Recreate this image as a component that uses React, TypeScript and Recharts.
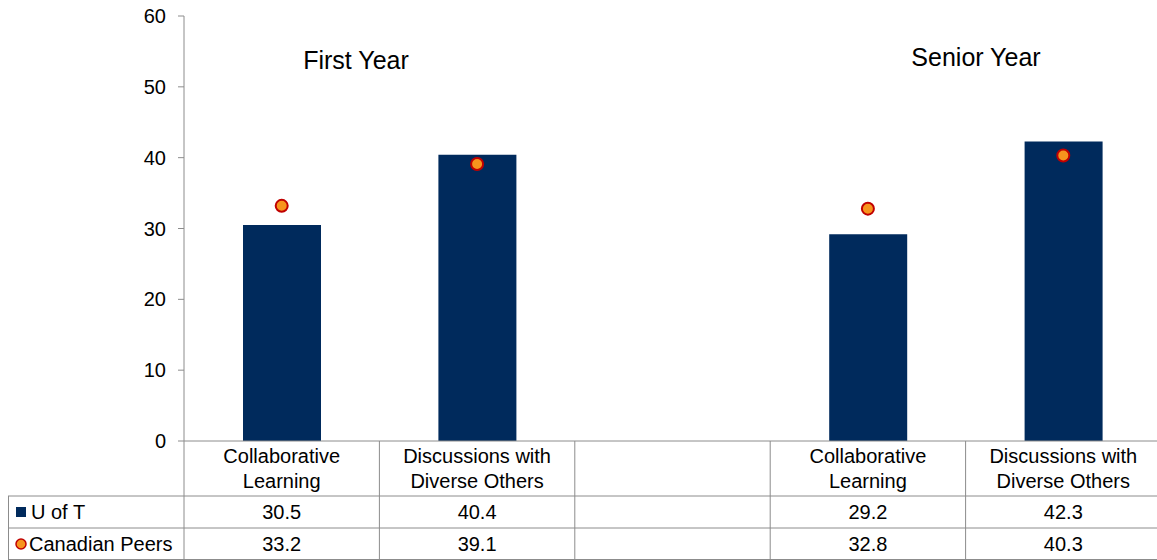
import React from 'react';
import { ComposedChart, Bar, Line, XAxis, YAxis, Customized } from 'recharts';

const categoryLines = [
    ['Collaborative', 'Learning'],
    ['Discussions with', 'Diverse Others'],
    [],
    ['Collaborative', 'Learning'],
    ['Discussions with', 'Diverse Others'],
];
const uoftValues = [30.5, 40.4, null, 29.2, 42.3];
const peerValues = [33.2, 39.1, null, 32.8, 40.3];
const yTicks = [0, 10, 20, 30, 40, 50, 60];
const seriesNames = ['U of T', 'Canadian Peers'];
const groupTitles = ['First Year', 'Senior Year'];

const FONT = '"Liberation Sans", Arial, sans-serif';
const W = 1157;
const H = 560;
// plot runs a few px past the right edge, like the original export
const CHART_W = 1162;
const PLOT_LEFT = 184;
const PLOT_RIGHT = 1161;
const PLOT_TOP = 16;
const PLOT_BOTTOM = 441;
const ROW1 = 496;
const ROW2 = 528;
const BAND = (PLOT_RIGHT - PLOT_LEFT) / categoryLines.length;
const GRID = '#8c8c8c';
const NAVY = '#002A5C';

const data = categoryLines.map((lines, i) => ({
    key: `cat${i}`,
    uoft: uoftValues[i],
    peers: peerValues[i],
}));

const TableTick = (props: any) => {
    const { x, payload } = props;
    const i = payload.index;
    const lines = categoryLines[i] || [];
    const half = BAND / 2;
    return (
        <g>
            <line x1={x - half} x2={x - half} y1={PLOT_BOTTOM} y2={H} stroke={GRID} />
            {lines.map((t, k) => (
                <text key={k} x={x} y={463 + k * 25} textAnchor="middle" fontSize={20} fontFamily={FONT} fill="#000">{t}</text>
            ))}
            {uoftValues[i] != null && (
                <text x={x} y={519} textAnchor="middle" fontSize={20} fontFamily={FONT} fill="#000">{uoftValues[i]!.toFixed(1)}</text>
            )}
            {peerValues[i] != null && (
                <text x={x} y={551} textAnchor="middle" fontSize={20} fontFamily={FONT} fill="#000">{peerValues[i]!.toFixed(1)}</text>
            )}
        </g>
    );
};

const TableFrame = () => (
    <g>
        <line x1={8} x2={W} y1={ROW1} y2={ROW1} stroke={GRID} />
        <line x1={8} x2={W} y1={ROW2} y2={ROW2} stroke={GRID} />
        <line x1={8} x2={W} y1={H - 0.5} y2={H - 0.5} stroke={GRID} />
        <line x1={8.5} x2={8.5} y1={ROW1} y2={H} stroke={GRID} />
        <rect x={16} y={507} width={10} height={10} fill={NAVY} />
        <text x={31} y={519} fontSize={20} fontFamily={FONT} fill="#000">{seriesNames[0]}</text>
        <circle cx={21} cy={544} r={5} fill="#F7941D" stroke="#C00000" strokeWidth={1.5} />
        <text x={29} y={551} fontSize={20} fontFamily={FONT} fill="#000">{seriesNames[1]}</text>
        <text x={356} y={69} textAnchor="middle" fontSize={25} fontFamily={FONT} fill="#000">{groupTitles[0]}</text>
        <text x={976} y={66} textAnchor="middle" fontSize={25} fontFamily={FONT} fill="#000">{groupTitles[1]}</text>
    </g>
);

export default function App() {
    return (
        <div style={{ position: 'absolute', left: 0, top: 0, width: W, height: H, overflow: 'hidden' }}>
            <ComposedChart
                width={CHART_W}
                height={H}
                data={data}
                margin={{ top: PLOT_TOP, right: CHART_W - PLOT_RIGHT, bottom: 0, left: 0 }}
            >
                <XAxis
                    dataKey="key"
                    height={H - PLOT_BOTTOM}
                    interval={0}
                    tickLine={false}
                    axisLine={{ stroke: GRID }}
                    tick={<TableTick />}
                />
                <YAxis
                    width={PLOT_LEFT}
                    domain={[0, 60]}
                    ticks={yTicks}
                    tickSize={6}
                    tickMargin={12}
                    tickLine={{ stroke: GRID }}
                    axisLine={{ stroke: GRID }}
                    tick={{ fontSize: 20, fontFamily: FONT, fill: '#000' }}
                />
                <Bar dataKey="uoft" fill={NAVY} barSize={78} isAnimationActive={false} />
                <Line
                    dataKey="peers"
                    stroke="none"
                    dot={{ r: 6, fill: '#F7941D', stroke: '#C00000', strokeWidth: 2 }}
                    activeDot={false}
                    isAnimationActive={false}
                />
                <Customized component={TableFrame} />
            </ComposedChart>
        </div>
    );
}
